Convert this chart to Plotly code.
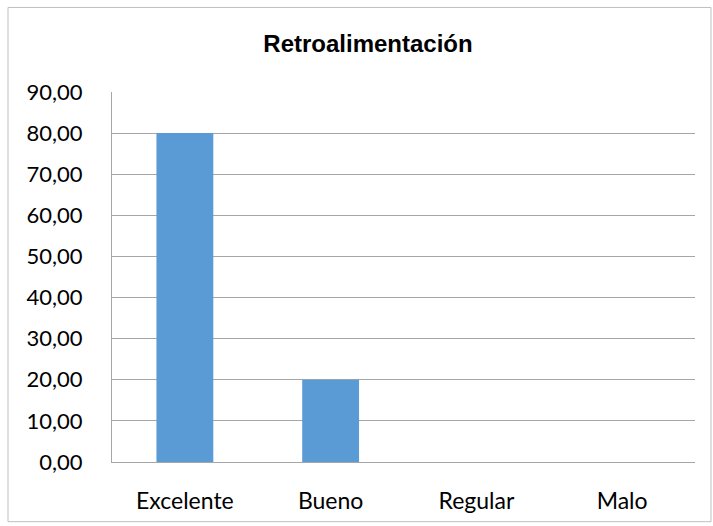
import plotly.graph_objects as go

categories = ["Excelente", "Bueno", "Regular", "Malo"]
values = [80.0, 20.0, 0.0, 0.0]
y_ticks = [0, 10, 20, 30, 40, 50, 60, 70, 80, 90]

W, H = 713, 526
L, R, T, B = 112, 18, 92, 62
pw, ph = W - L - R, H - T - B

def px_x(x):
    return (x - L) / pw

def px_y(y):
    return (H - B - y) / ph

fig = go.Figure(
    go.Bar(
        x=categories,
        y=values,
        marker=dict(color="#5b9bd5", line=dict(width=0)),
        width=0.39,
    )
)

fig.update_layout(
    width=W,
    height=H,
    margin=dict(l=L, r=R, t=T, b=B),
    paper_bgcolor="white",
    plot_bgcolor="white",
    separators=",.",
    showlegend=False,
    title=dict(
        text="<b>Retroalimentación</b>",
        x=(368 - 0) / W,
        xanchor="center",
        y=1 - 44 / H,
        yanchor="middle",
        font=dict(family="Liberation Sans", size=24, color="black"),
    ),
    xaxis=dict(
        showline=True,
        linecolor="#a6a6a6",
        linewidth=1,
        ticks="",
        tickfont=dict(family="Lato", size=23, color="black"),
        ticklabelstandoff=18,
    ),
    yaxis=dict(
        range=[0, 90],
        tickvals=y_ticks,
        tickformat=".2f",
        showgrid=True,
        gridcolor="#a6a6a6",
        gridwidth=1,
        showline=True,
        linecolor="#a6a6a6",
        linewidth=1,
        ticks="",
        zeroline=False,
        tickfont=dict(family="Lato", size=22, color="black"),
        ticklabelstandoff=24,
    ),
    shapes=[
        dict(
            type="rect",
            xref="paper",
            yref="paper",
            x0=px_x(8),
            x1=px_x(711),
            y0=px_y(524),
            y1=px_y(7),
            line=dict(color="#bfbfbf", width=1),
            fillcolor="rgba(0,0,0,0)",
            layer="below",
        )
    ],
)

fig.write_html("out.html")
